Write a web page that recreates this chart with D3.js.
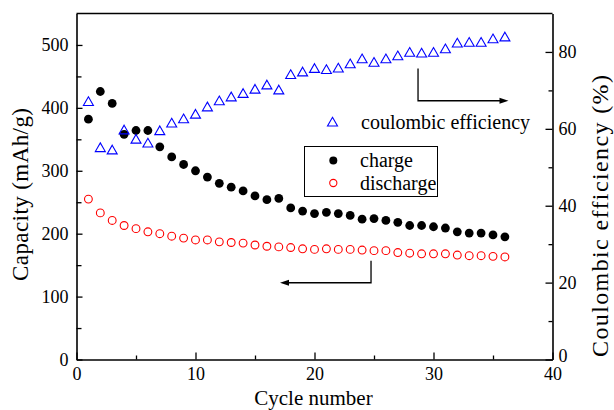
<!DOCTYPE html>
<html>
<head>
<meta charset="utf-8">
<script src="https://cdn.jsdelivr.net/npm/d3@7"></script>
<style>
  html, body { margin: 0; padding: 0; background: #fff; }
  svg { display: block; }
  text { font-family: "Liberation Serif", "Times New Roman", serif; fill: #000; }
</style>
</head>
<body>
<svg id="chart" width="614" height="410"></svg>
<script>
// ---- data ----
const cycles = [1,2,3,4,5,6,7,8,9,10,11,12,13,14,15,16,17,18,19,20,21,22,23,24,25,26,27,28,29,30,31,32,33,34,35,36];
const charge = [382,426,407,358,364,364,338,322,310,300,290,280,274,268,260,254,256,241,236,232,234,232,229,223,224,221,218,213,213,211,209,203,201,201,198,195];
const discharge = [255,233,221,213,208,203,200,196,193,190,190,187,186,185,182,180,179,178,176,175,176,175,175,174,173,173,170,169,168,168,168,166,165,165,164,163];
const coulombic = [67.2,55.2,54.6,59.8,57.4,56.4,59.6,61.6,62.7,63.9,65.8,67.4,68.4,69.3,70.4,71.5,70.2,74.2,74.9,75.8,75.5,75.9,77.0,78.3,77.4,78.3,79.1,80.0,79.8,80.0,80.9,82.4,82.6,82.6,83.5,84.0];

const xTicks = [0,10,20,30,40];
const xMinor = [5,15,25,35];
const yLeftTicks = [0,100,200,300,400,500];
const yLeftMinor = [50,150,250,350,450];
const yRightTicks = [0,20,40,60,80];
const yRightMinor = [10,30,50,70];

// ---- layout ----
const svg = d3.select("#chart");
const L = 76.5, R = 552.5, T = 13.5, B = 359.5;

const x = d3.scaleLinear().domain([0, 40]).range([L, R]);
const yL = d3.scaleLinear().domain([0, 550]).range([B, T]);
const yR = d3.scaleLinear().domain([0, 90]).range([B, T]);

function styleAxis(g) {
  g.selectAll("path.domain").attr("stroke", "#000").attr("stroke-width", 1.6);
  g.selectAll(".tick line").attr("stroke", "#000").attr("stroke-width", 1.3);
  g.selectAll(".tick text").style("font-family", '"Liberation Serif", serif').style("font-size", "18px").attr("fill", "#000");
}

// bottom axis
svg.append("g").attr("transform", `translate(0,${B})`)
  .call(d3.axisBottom(x).tickValues(xTicks).tickFormat(d3.format("d")).tickSize(-7).tickSizeOuter(0).tickPadding(8))
  .call(styleAxis);
svg.append("g").attr("transform", `translate(0,${B})`)
  .call(d3.axisBottom(x).tickValues(xMinor).tickFormat("").tickSize(-4).tickSizeOuter(0))
  .call(g => g.select("path.domain").remove())
  .call(styleAxis);

// left axis
svg.append("g").attr("transform", `translate(${L},0)`)
  .call(d3.axisLeft(yL).tickValues(yLeftTicks).tickFormat(d3.format("d")).tickSize(-6).tickSizeOuter(0).tickPadding(8))
  .call(styleAxis);
svg.append("g").attr("transform", `translate(${L},0)`)
  .call(d3.axisLeft(yL).tickValues(yLeftMinor).tickFormat("").tickSize(-5).tickSizeOuter(0))
  .call(g => g.select("path.domain").remove())
  .call(styleAxis);

// right axis
svg.append("g").attr("transform", `translate(${R},0)`)
  .call(d3.axisRight(yR).tickValues(yRightTicks).tickFormat(d3.format("d")).tickSize(-7).tickSizeOuter(0).tickPadding(6))
  .call(styleAxis)
  .call(g => g.selectAll(".tick text").filter(d => d === 0).attr("dy", "0.1em"));
svg.append("g").attr("transform", `translate(${R},0)`)
  .call(d3.axisRight(yR).tickValues(yRightMinor).tickFormat("").tickSize(-4).tickSizeOuter(0))
  .call(g => g.select("path.domain").remove())
  .call(styleAxis);

// top frame line
svg.append("line").attr("x1", L).attr("x2", R).attr("y1", T).attr("y2", T)
  .attr("stroke", "#000").attr("stroke-width", 1.6);

// axis titles
svg.append("text").attr("x", (L + R) / 2 - 1).attr("y", 405)
  .attr("text-anchor", "middle").style("font-size", "21px").text("Cycle number");
svg.append("text").attr("transform", "translate(28,194.5) rotate(-90)")
  .attr("text-anchor", "middle").style("font-size", "23px")
  .attr("textLength", 173).attr("lengthAdjust", "spacing")
  .text("Capacity (mAh/g)");
svg.append("text").attr("transform", "translate(608,216) rotate(-90)")
  .attr("text-anchor", "middle").style("font-size", "24px")
  .attr("textLength", 282).attr("lengthAdjust", "spacing")
  .text("Coulombic efficiency (%)");

// ---- marks ----
const tri = "M0,-4.4L5,4.3L-5,4.3Z";

svg.append("g").selectAll("circle.d").data(cycles).join("circle")
  .attr("cx", (c) => x(c)).attr("cy", (c, i) => yL(discharge[i])).attr("r", 3.9)
  .attr("fill", "none").attr("stroke", "#ff0000").attr("stroke-width", 1.1);

svg.append("g").selectAll("circle.c").data(cycles).join("circle")
  .attr("cx", (c) => x(c)).attr("cy", (c, i) => yL(charge[i])).attr("r", 4.4)
  .attr("fill", "#000");

svg.append("g").selectAll("path.t").data(cycles).join("path")
  .attr("d", tri)
  .attr("transform", (c, i) => `translate(${x(c)},${yR(coulombic[i])})`)
  .attr("fill", "none").attr("stroke", "#0000ff").attr("stroke-width", 1.1);

// ---- annotation arrows (in data coordinates) ----
const arrowR = { x0: 28.7, yTop: 75.7, yCorner: 67.3, x1: 36.3 };   // right-axis arrow
const arrowL = { x0: 24.75, yTop: 157, yCorner: 122, x1: 17.1 };    // left-axis arrow

function arrow(xs, ys, a, dir) {
  const px = xs(a.x0), pyTop = ys(a.yTop), pyC = ys(a.yCorner), pEnd = xs(a.x1);
  svg.append("path")
    .attr("d", `M${px},${pyTop}V${pyC}H${pEnd - dir * 6}`)
    .attr("fill", "none").attr("stroke", "#000").attr("stroke-width", 1.3);
  svg.append("path")
    .attr("d", `M${pEnd},${pyC}L${pEnd - dir * 9},${pyC - 3}L${pEnd - dir * 9},${pyC + 3}Z`)
    .attr("fill", "#000");
}
arrow(x, yR, arrowR, 1);
arrow(x, yL, arrowL, -1);

// ---- legends ----
svg.append("path").attr("d", tri).attr("transform", "translate(332.5,121.7)")
  .attr("fill", "none").attr("stroke", "#0000ff").attr("stroke-width", 1.1);
svg.append("text").attr("x", 361).attr("y", 129).style("font-size", "20px").text("coulombic efficiency");

svg.append("rect").attr("x", 304.5).attr("y", 146.5).attr("width", 133).attr("height", 50)
  .attr("fill", "none").attr("stroke", "#000").attr("stroke-width", 1);
svg.append("circle").attr("cx", 333.3).attr("cy", 160.5).attr("r", 4).attr("fill", "#000");
svg.append("text").attr("x", 360).attr("y", 167).style("font-size", "20px").text("charge");
svg.append("circle").attr("cx", 333.3).attr("cy", 183).attr("r", 3.6)
  .attr("fill", "none").attr("stroke", "#ff0000").attr("stroke-width", 1.1);
svg.append("text").attr("x", 360).attr("y", 189.5).style("font-size", "20px").text("discharge");
</script>
</body>
</html>
